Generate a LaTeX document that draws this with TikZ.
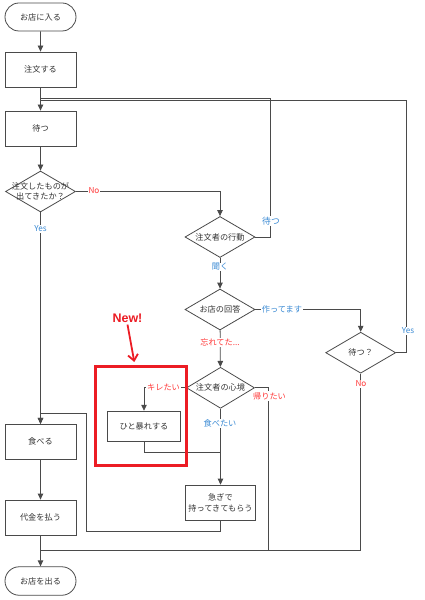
\documentclass[tikz,border=0pt]{standalone}
\usepackage{fontspec}
\setmainfont{Noto Sans CJK JP}
\newfontfamily\latinfont{Liberation Sans}
\usetikzlibrary{shapes.geometric,shapes.misc,arrows.meta}
\definecolor{ln}{HTML}{4A4A4A}
\definecolor{lblue}{HTML}{3A8AD4}
\definecolor{lred}{HTML}{FF3838}
\definecolor{hred}{HTML}{EC1C24}
\definecolor{tx}{HTML}{333333}
\begin{document}
\begin{tikzpicture}[x=1bp,y=-1bp,
  txt/.style={font=\fontsize{8.2}{10.5}\selectfont, text=tx, align=center},
  box/.style={txt, draw=ln, line width=0.8bp, rectangle, minimum width=71bp, minimum height=35bp, inner sep=0pt},
  term/.style={txt, draw=ln, line width=0.8bp, rounded rectangle, minimum width=71bp, minimum height=28bp, inner sep=0pt},
  dec/.style={draw=ln, line width=0.8bp, diamond, minimum width=70bp, minimum height=41bp, inner sep=0pt},
  dtext/.style={txt, inner sep=0pt},
  conn/.style={draw=ln, line width=0.8bp},
  arr/.style={-{Triangle[length=6bp,width=5.5bp]}, conn},
  lab/.style={fill=white, inner sep=0.8pt, font=\fontsize{8.2}{10}\selectfont},
  bl/.style={lab, text=lblue},
  rl/.style={lab, text=lred}]
\useasboundingbox (0,0) rectangle (424,600);
\fill[white] (0,0) rectangle (424,600);

% nodes
\node[term] (start) at (40.5,17) {お店に入る};
\node[box] (order) at (40.5,69.5) {注文する};
\node[box] (wait) at (40.5,128.5) {待つ};
\node[dec, label={[dtext]center:注文したものが\\出てきたか？}] (d1) at (40.5,191.5) {};
\node[dec, label={[dtext]center:注文者の行動}] (d2) at (220,237) {};
\node[dec, label={[dtext]center:お店の回答}] (d3) at (220,309.5) {};
\node[dec, label={[dtext]center:待つ？}] (d4) at (360.7,352.7) {};
\node[dec, minimum width=68bp, label={[dtext]center:注文者の心境}] (d5) at (220.5,387.8) {};
\node[box, minimum width=72.6bp, minimum height=30.7bp] (rampage) at (144,426.5) {ひと暴れする};
\node[box, minimum width=70.4bp, minimum height=35.3bp] (quick) at (220.5,502.7) {急ぎで\\持ってきてもらう};
\node[box] (eat) at (40.5,441.8) {食べる};
\node[box] (pay) at (40.5,517.5) {代金を払う};
\node[term, minimum height=28.5bp] (exit) at (40.5,581) {お店を出る};

% junction coordinates
\coordinate (j1) at (40.5,98);
\coordinate (j2) at (40.5,100);
\coordinate (tw) at (270,98);
\coordinate (tj) at (406,100);
\coordinate (j3) at (40.5,550);
\coordinate (j4) at (220.5,452.3);
\coordinate (j5) at (268,550);
\coordinate (lp1) at (86,531);
\coordinate (lp2) at (86,413);

% connectors
\draw[arr] (start) -- (order);
\draw[arr] (order) -- (wait);
\draw[arr] (wait) -- (d1);
\draw[arr] (d1.east) -| (d2.north);
\draw[arr] (d1) -- (eat);
\draw[conn] (d2.east) -| (tw) -- (j1);
\draw[arr] (d2) -- (d3);
\draw[arr] (d3.east) -| (d4.north);
\draw[conn] (d4.east) -| (tj) -- (j2);
\draw[conn] (d4.south) |- (j3);
\draw[arr] (d3) -- (d5);
\draw[arr] (d5.west) -| (rampage.north);
\draw[conn] (rampage.south) |- (j4);
\draw[arr] (d5) -- (quick);
\draw[conn] (d5.east) -| (j5);
\draw[arr] (quick.south) |- (lp1) -- (lp2) -| (eat.north);
\draw[arr] (eat) -- (pay);
\draw[arr] (pay) -- (exit);

% labels
\node[rl] (lno1) at (94,190.5) {No};
\node[bl] (lyes1) at (40.5,228.7) {Yes};
\node[bl, font=\fontsize{8.8}{10}\selectfont] (lwait) at (271,221) {待つ};
\node[bl] (lask) at (220,267) {聞く};
\node[bl] (lmake) at (282,309.5) {作ってます};
\node[bl] (lyes2) at (408,331) {Yes};
\node[rl] (lno2) at (361,384) {No};
\node[rl] (lforgot) at (220,342) {忘れてた...};
\node[rl] (lmad) at (163.5,387) {キレたい};
\node[rl] (lhome) at (269.5,396) {帰りたい};
\node[bl] (leat) at (220,423.5) {食べたい};

% highlight
\node[draw=hred, line width=3bp, minimum width=91bp, minimum height=99bp, inner sep=0pt] (hl) at (141,415.8) {};
\node[text=hred, font=\latinfont\bfseries\fontsize{12.5}{14}\selectfont, inner sep=0pt] (new) at (127.5,318.5) {New!};
\coordinate (newtip) at (134.3,362);
\draw[hred, line width=1.8bp, -{Straight Barb[length=6bp,width=10bp]}] ([yshift=-1.5bp]new.south) -- (newtip);
\end{tikzpicture}
\end{document}
